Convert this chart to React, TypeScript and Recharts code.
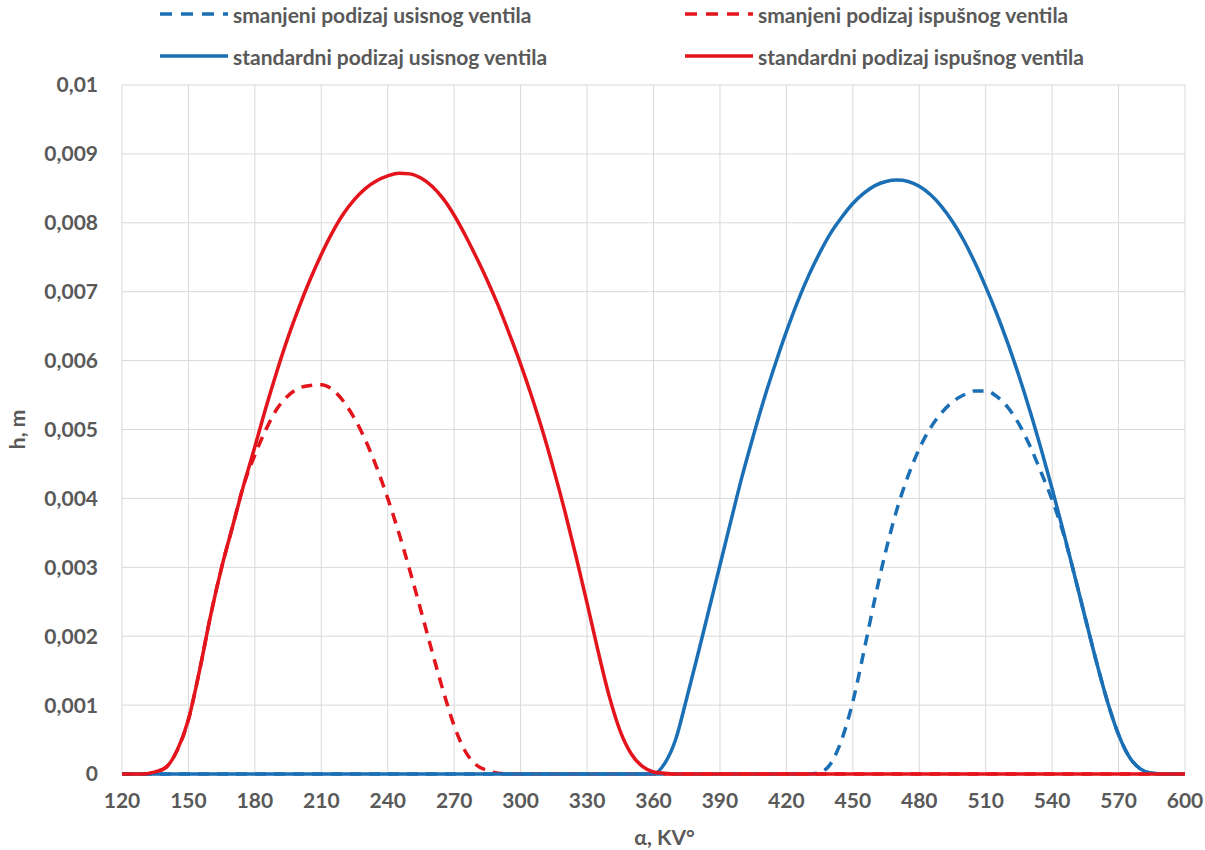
import React from 'react';
import { LineChart, Line, XAxis, YAxis, CartesianGrid, Legend } from 'recharts';

// crank angle (deg) and valve lift (m)
const exhStdAngle = [120, 130, 135, 140, 145, 150, 155, 160, 165, 170, 175, 180, 185, 190, 195, 200, 205, 210, 215, 220, 225, 230, 235, 240, 245, 250, 255, 260, 265, 270, 275, 280, 285, 290, 295, 300, 305, 310, 315, 320, 325, 330, 335, 340, 345, 350, 355, 360, 365, 370, 600];
const exhStdLift = [0, 0, 0.00003, 0.0001, 0.00035, 0.00079, 0.0015, 0.0023, 0.003, 0.0036, 0.0042, 0.00475, 0.00532, 0.00585, 0.00634, 0.00678, 0.00718, 0.00754, 0.00786, 0.00813, 0.00834, 0.0085, 0.00861, 0.00868, 0.00872, 0.00871, 0.00865, 0.00853, 0.00835, 0.00811, 0.00782, 0.0075, 0.00716, 0.00679, 0.00638, 0.00595, 0.00548, 0.00497, 0.00441, 0.00381, 0.00316, 0.00248, 0.00178, 0.00113, 0.00062, 0.00029, 0.00011, 0.00003, 0.00001, 0, 0];

const exhRedAngle = [120, 130, 135, 140, 145, 150, 155, 160, 165, 170, 175, 180, 185, 190, 195, 200, 205, 210, 215, 220, 225, 230, 235, 240, 245, 250, 255, 260, 265, 270, 275, 280, 285, 290, 295, 600];
const exhRedLift = [0, 0, 0.00003, 0.0001, 0.00035, 0.00079, 0.0015, 0.0023, 0.003, 0.0036, 0.0042, 0.00463, 0.005, 0.0053, 0.00549, 0.0056, 0.00564, 0.00565, 0.00558, 0.00541, 0.00516, 0.00484, 0.00445, 0.004, 0.0035, 0.00295, 0.00237, 0.00178, 0.00121, 0.0007, 0.00033, 0.00013, 0.00005, 0.00001, 0, 0];

const intStdAngle = [120, 360, 365, 370, 375, 380, 385, 390, 395, 400, 405, 410, 415, 420, 425, 430, 435, 440, 445, 450, 455, 460, 465, 470, 475, 480, 485, 490, 495, 500, 505, 510, 515, 520, 525, 530, 535, 540, 545, 550, 555, 560, 565, 570, 575, 580, 585, 590, 600];
const intStdLift = [0, 0, 0.00015, 0.0005, 0.0011, 0.00173, 0.00238, 0.00303, 0.00368, 0.00432, 0.0049, 0.00545, 0.00595, 0.00642, 0.00685, 0.00723, 0.00756, 0.00785, 0.00808, 0.00828, 0.00843, 0.00854, 0.0086, 0.00862, 0.0086, 0.00853, 0.00841, 0.00824, 0.00802, 0.00775, 0.00743, 0.00707, 0.00668, 0.00625, 0.00578, 0.00527, 0.00472, 0.00414, 0.00353, 0.0029, 0.00226, 0.00163, 0.00105, 0.00057, 0.00024, 0.00007, 0.00001, 0, 0];

const intRedAngle = [120, 430, 435, 440, 445, 450, 455, 460, 465, 470, 475, 480, 485, 490, 495, 500, 505, 510, 515, 520, 525, 530, 535, 540, 545, 550, 555, 560, 565, 570, 575, 580, 585, 590, 600];
const intRedLift = [0, 0, 0.00002, 0.00015, 0.0005, 0.00105, 0.00178, 0.00255, 0.00325, 0.00385, 0.00433, 0.00472, 0.00502, 0.00524, 0.0054, 0.0055, 0.00556, 0.00556, 0.00548, 0.00532, 0.00508, 0.00476, 0.00438, 0.00398, 0.0035, 0.0029, 0.00226, 0.00163, 0.00105, 0.00057, 0.00024, 0.00007, 0.00001, 0, 0];

const xTicks = [120, 150, 180, 210, 240, 270, 300, 330, 360, 390, 420, 450, 480, 510, 540, 570, 600];
const yTicks = [0, 0.001, 0.002, 0.003, 0.004, 0.005, 0.006, 0.007, 0.008, 0.009, 0.01];

const seriesNames = [
  'smanjeni podizaj usisnog ventila',
  'smanjeni podizaj ispušnog ventila',
  'standardni podizaj usisnog ventila',
  'standardni podizaj ispušnog ventila',
];

const BLUE = '#1B6FB5';
const RED = '#E3141B';
const TEXT = '#595959';
const FONT = 'Lato, "Open Sans", sans-serif';

const toPoints = (angle: number[], lift: number[]) => angle.map((a, i) => ({ a, h: lift[i] }));

const fmtY = (v: number) => String(Number(v.toFixed(3))).replace('.', ',');

// legend: 2 x 2 grid, dashed sample for the reduced lifts
const LegendBox = () => {
  const items = [
    { name: seriesNames[0], color: BLUE, dashed: true, x: 160, y: 14 },
    { name: seriesNames[1], color: RED, dashed: true, x: 685, y: 14 },
    { name: seriesNames[2], color: BLUE, dashed: false, x: 160, y: 56 },
    { name: seriesNames[3], color: RED, dashed: false, x: 685, y: 56 },
  ];
  return (
    <div style={{ position: 'relative', width: 1205, height: 80 }}>
      {items.map((it) => (
        <div
          key={it.name}
          style={{ position: 'absolute', left: it.x, top: it.y - 14, height: 28, display: 'flex', alignItems: 'center', whiteSpace: 'nowrap' }}
        >
          <svg width={70} height={8} style={{ marginRight: 3 }}>
            <line
              x1={0}
              y1={4}
              x2={68}
              y2={4}
              stroke={it.color}
              strokeWidth={3.5}
              strokeDasharray={it.dashed ? '12 9' : undefined}
            />
          </svg>
          <span style={{ fontFamily: FONT, fontWeight: 700, fontSize: 21, color: TEXT }}>{it.name}</span>
        </div>
      ))}
    </div>
  );
};

export default function App() {
  const tickStyle = { fill: TEXT, fontSize: 21, fontWeight: 700, fontFamily: FONT };
  return (
    <div style={{ position: 'absolute', left: 0, top: 0, width: 1205, height: 850, background: '#fff' }}>
      <LineChart width={1205} height={850} margin={{ top: 5, right: 20, bottom: 0, left: 0 }}>
        <CartesianGrid stroke="#D9D9D9" strokeWidth={1} />
        <XAxis
          type="number"
          dataKey="a"
          domain={[120, 600]}
          ticks={xTicks}
          interval={0}
          height={76}
          axisLine={false}
          tickLine={false}
          tickSize={0}
          tickMargin={19}
          tick={tickStyle}
          label={{ value: 'α, KV°', position: 'insideBottom', offset: 5, dx: 11, fill: TEXT, fontSize: 21, fontWeight: 700, fontFamily: FONT }}
        />
        <YAxis
          type="number"
          domain={[0, 0.01]}
          ticks={yTicks}
          interval={0}
          width={122}
          axisLine={false}
          tickLine={false}
          tickSize={0}
          tickMargin={24}
          tickFormatter={fmtY}
          tick={tickStyle}
          label={{ value: 'h, m', angle: -90, position: 'insideLeft', offset: 18, style: { textAnchor: 'middle' }, fill: TEXT, fontSize: 21, fontWeight: 700, fontFamily: FONT }}
        />
        <Legend verticalAlign="top" wrapperStyle={{ top: 0, left: 0, width: 1205, height: 80 }} content={() => <LegendBox />} />
        <Line data={toPoints(intRedAngle, intRedLift)} dataKey="h" name={seriesNames[0]} type="monotone" stroke={BLUE} strokeWidth={3.5} strokeDasharray="11 8" dot={false} activeDot={false} isAnimationActive={false} />
        <Line data={toPoints(exhRedAngle, exhRedLift)} dataKey="h" name={seriesNames[1]} type="monotone" stroke={RED} strokeWidth={3.5} strokeDasharray="11 8" dot={false} activeDot={false} isAnimationActive={false} />
        <Line data={toPoints(intStdAngle, intStdLift)} dataKey="h" name={seriesNames[2]} type="monotone" stroke={BLUE} strokeWidth={3.5} dot={false} activeDot={false} isAnimationActive={false} />
        <Line data={toPoints(exhStdAngle, exhStdLift)} dataKey="h" name={seriesNames[3]} type="monotone" stroke={RED} strokeWidth={3.5} dot={false} activeDot={false} isAnimationActive={false} />
      </LineChart>
    </div>
  );
}
